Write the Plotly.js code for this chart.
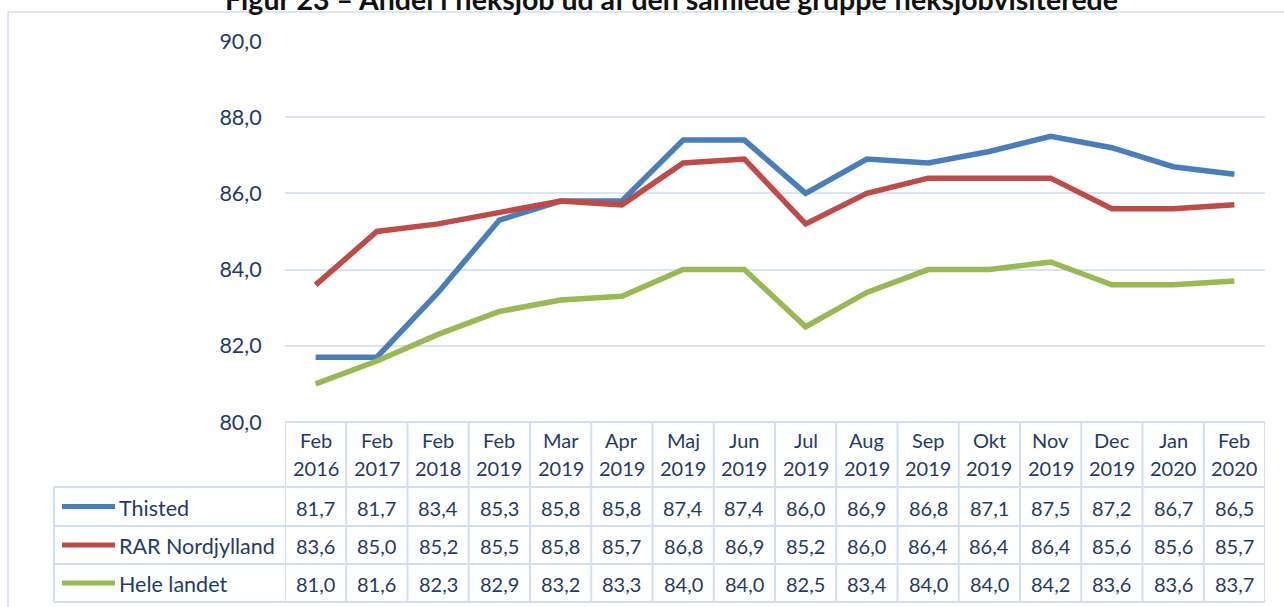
<!DOCTYPE html>
<html>
<head>
<meta charset="utf-8">
<script src="https://cdn.plot.ly/plotly-3.0.1.min.js"></script>
<style>html,body{margin:0;padding:0;background:#fff;}#chart{width:1284px;height:607px;}</style>
</head>
<body>
<div id="chart"></div>
<script>
const months = ['Feb','Feb','Feb','Feb','Mar','Apr','Maj','Jun','Jul','Aug','Sep','Okt','Nov','Dec','Jan','Feb'];
const years = ['2016','2017','2018','2019','2019','2019','2019','2019','2019','2019','2019','2019','2019','2019','2020','2020'];
const seriesNames = ['Thisted','RAR Nordjylland','Hele landet'];
const thisted = [81.7,81.7,83.4,85.3,85.8,85.8,87.4,87.4,86.0,86.9,86.8,87.1,87.5,87.2,86.7,86.5];
const rarNordjylland = [83.6,85.0,85.2,85.5,85.8,85.7,86.8,86.9,85.2,86.0,86.4,86.4,86.4,85.6,85.6,85.7];
const heleLandet = [81.0,81.6,82.3,82.9,83.2,83.3,84.0,84.0,82.5,83.4,84.0,84.0,84.2,83.6,83.6,83.7];
const titleText = 'Figur 23 – Andel i fleksjob ud af den samlede gruppe fleksjobvisiterede';

const seriesValues = [thisted, rarNordjylland, heleLandet];
const colors = ['#4a7ebb','#be4b48','#98b954'];
const textColor = '#1f3b6b';
const borderColor = '#d3dff1';
const FONT = 'Lato, "Liberation Sans", Arial, sans-serif';

// layout geometry (pixels)
const W = 1284, H = 607;
const mL = 285, mR = 19, mT = 41, mB = 185;
const plotW = W - mL - mR, plotH = H - mT - mB;
const px = x => (x - mL) / plotW;           // pixel x -> paper
const py = y => (H - mB - y) / plotH;        // pixel y -> paper

const cats = months.map((m, i) => m + ' ' + years[i]);

const traces = seriesValues.map((vals, s) => ({
  type: 'scatter', mode: 'lines', x: cats, y: vals, name: seriesNames[s],
  line: {color: colors[s], width: 5.5}, hoverinfo: 'skip', showlegend: false
}));

const shapes = [];
const annotations = [];
const rowLines = [487, 526, 564, 602];
const rowCenters = [507.5, 546, 584];
const tableTop = 422, legendLeft = 54;
const cellFont = {family:FONT, size:20, color:textColor};

// frame
shapes.push({type:'line', xref:'paper', yref:'paper', x0:px(8), x1:px(1290), y0:py(12), y1:py(12), line:{color:'#dde6f4', width:2}});
shapes.push({type:'line', xref:'paper', yref:'paper', x0:px(8), x1:px(8), y0:py(12), y1:py(620), line:{color:'#dde6f4', width:2}});

// table horizontal lines
shapes.push({type:'line', xref:'x', yref:'paper', x0:-0.5, x1:cats.length-0.5, y0:py(tableTop), y1:py(tableTop), line:{color:borderColor, width:2}});
rowLines.forEach(y => {
  shapes.push({type:'line', xref:'paper', yref:'paper', x0:px(legendLeft), x1:1, y0:py(y), y1:py(y), line:{color:borderColor, width:2}});
});
// vertical lines
for (let i = 0; i <= cats.length; i++) {
  shapes.push({type:'line', xref:'x', yref:'paper', x0:i-0.5, x1:i-0.5, y0:py(tableTop), y1:py(602), line:{color:borderColor, width:2}});
}
shapes.push({type:'line', xref:'paper', yref:'paper', x0:px(legendLeft), x1:px(legendLeft), y0:py(487), y1:py(602), line:{color:borderColor, width:2}});

// header text
cats.forEach((c, i) => {
  annotations.push({xref:'x', yref:'paper', x:c, y:py(440), text:months[i], showarrow:false, xanchor:'center', yanchor:'middle', font:cellFont});
  annotations.push({xref:'x', yref:'paper', x:c, y:py(468), text:years[i], showarrow:false, xanchor:'center', yanchor:'middle', font:cellFont});
});
// values and legend
seriesValues.forEach((vals, s) => {
  vals.forEach((v, i) => {
    annotations.push({xref:'x', yref:'paper', x:cats[i], y:py(rowCenters[s]), text:v.toFixed(1).replace('.', ','), showarrow:false, xanchor:'center', yanchor:'middle', font:cellFont});
  });
  annotations.push({xref:'paper', yref:'paper', x:px(117), y:py(rowCenters[s]), text:seriesNames[s], showarrow:false, xanchor:'left', yanchor:'middle', font:{family:FONT, size:21.5, color:textColor}});
  shapes.push({type:'line', xref:'paper', yref:'paper', x0:px(62), x1:px(115), y0:py(rowCenters[s]-1), y1:py(rowCenters[s]-1), line:{color:colors[s], width:5}});
});
// title (cut off at top, as in the reference)
annotations.push({xref:'paper', yref:'paper', x:px(671), y:py(-1), text:'<b>'+titleText+'</b>', showarrow:false, xanchor:'center', yanchor:'middle', font:{family:FONT, size:28.5, color:'#111'}});

const layout = {
  width: W, height: H,
  margin: {l:mL, r:mR, t:mT, b:mB, pad:0},
  paper_bgcolor:'#fff', plot_bgcolor:'#fff',
  separators: ',.',
  showlegend: false,
  xaxis: {type:'category', range:[-0.5, cats.length-0.5], showticklabels:false, showgrid:false, zeroline:false, showline:false, ticks:''},
  yaxis: {range:[80,90], dtick:2, tick0:80, tickformat:'.1f', showgrid:true, gridcolor:'#d9e3f3', gridwidth:2, zeroline:false, showline:false,
          ticks:'outside', ticklen:0, ticklabelstandoff:18, tickfont:{family:FONT, size:21.5, color:textColor}},
  shapes: shapes,
  annotations: annotations
};

Plotly.newPlot('chart', traces, layout, {staticPlot:true, displayModeBar:false});
</script>
</body>
</html>
